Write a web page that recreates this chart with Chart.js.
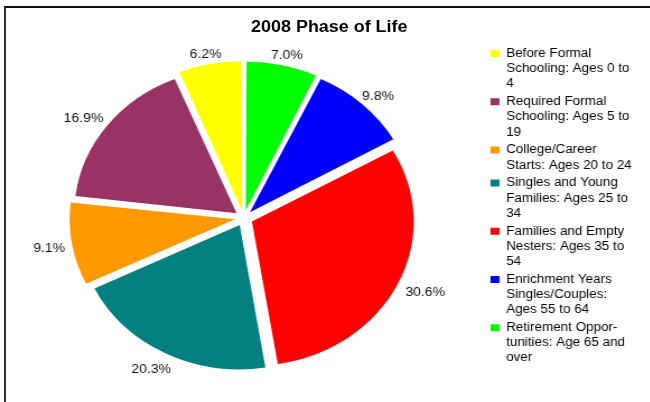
<!DOCTYPE html>
<html>
<head>
<meta charset="utf-8">
<script src="https://cdn.jsdelivr.net/npm/chart.js@4.4.1/dist/chart.umd.min.js"></script>
<style>
  html, body { margin: 0; padding: 0; background: #fff; }
  #page { position: relative; width: 650px; height: 402px; overflow: hidden; }
  #frame {
    position: absolute; left: 4px; top: 6px; width: 700px; height: 420px;
    border-top: 2px solid #111; border-left: 2px solid #333;
  }
  /* the whole chart is a bit wider than tall, so stretch it */
  #stretch {
    position: absolute; left: 0; top: 0; width: 580px; height: 402px;
    transform: scaleX(1.12); transform-origin: 0 0;
  }
  #stretch canvas { position: absolute; left: 0; top: 0; }
  #title {
    position: absolute; left: 194px; top: 19px; width: 200px;
    text-align: center; font: bold 16px/16px "Liberation Sans", Arial, sans-serif; color: #000;
  }
</style>
</head>
<body>
<div id="page">
  <div id="frame"></div>
  <div id="stretch">
    <canvas id="myChart" width="580" height="402"></canvas>
    <div id="title">2008 Phase of Life</div>
  </div>
</div>
<script>
  // legend order (the pie runs the other way round, clockwise from the top)
  const phases = [
    ["Before Formal", "Schooling: Ages 0 to", "4"],
    ["Required Formal", "Schooling: Ages 5 to", "19"],
    ["College/Career", "Starts: Ages 20 to 24"],
    ["Singles and Young", "Families: Ages 25 to", "34"],
    ["Families and Empty", "Nesters: Ages 35 to", "54"],
    ["Enrichment Years", "Singles/Couples:", "Ages 55 to 64"],
    ["Retirement Oppor-", "tunities: Age 65 and", "over"]
  ];
  const shares = [6.2, 16.9, 9.1, 20.3, 30.6, 9.8, 7.0];
  const colors = ["#FFFF00", "#993366", "#FF9900", "#008080", "#FF0000", "#0000FF", "#00FF00"];

  const pieLabels = phases.slice().reverse();
  const pieValues = shares.slice().reverse();
  const pieColors = colors.slice().reverse();

  // percentage text just outside each slice
  const pctLabels = {
    id: 'pctLabels',
    afterDatasetsDraw(chart) {
      const ctx = chart.ctx;
      const meta = chart.getDatasetMeta(0);
      ctx.save();
      ctx.font = '12.5px "Liberation Sans", Arial, sans-serif';
      ctx.fillStyle = '#111';
      ctx.textAlign = 'center';
      ctx.textBaseline = 'middle';
      meta.data.forEach((arc, i) => {
        const p = arc.getProps(['x', 'y', 'startAngle', 'endAngle', 'outerRadius'], true);
        const mid = (p.startAngle + p.endAngle) / 2;
        const r = p.outerRadius + 18;
        const text = pieValues[i].toFixed(1) + '%';
        const w = ctx.measureText(text).width;
        ctx.fillText(text, p.x + Math.cos(mid) * (r + w / 2), p.y + Math.sin(mid) * (r + 6.5) + 2);
      });
      ctx.restore();
    }
  };

  Chart.defaults.font.family = '"Liberation Sans", Arial, sans-serif';
  Chart.defaults.color = '#000';

  const ctx = document.getElementById('myChart').getContext('2d');
  const myChart = new Chart(ctx, {
    type: 'pie',
    data: {
      labels: pieLabels,
      datasets: [{
        data: pieValues,
        backgroundColor: pieColors,
        borderWidth: 0,
        offset: 32,
        radius: 144,
        clip: false
      }]
    },
    options: {
      responsive: false,
      animation: false,
      layout: { padding: { left: 0, top: 45, right: 6, bottom: 11 } },
      plugins: {
        tooltip: { enabled: false },
        legend: {
          position: 'right',
          align: 'start',
          reverse: true,
          labels: {
            boxWidth: 8,
            boxHeight: 7,
            padding: 2.6,
            color: '#000',
            font: { size: 12, lineHeight: 1.267 }
          }
        }
      }
    },
    plugins: [pctLabels]
  });
</script>
</body>
</html>
